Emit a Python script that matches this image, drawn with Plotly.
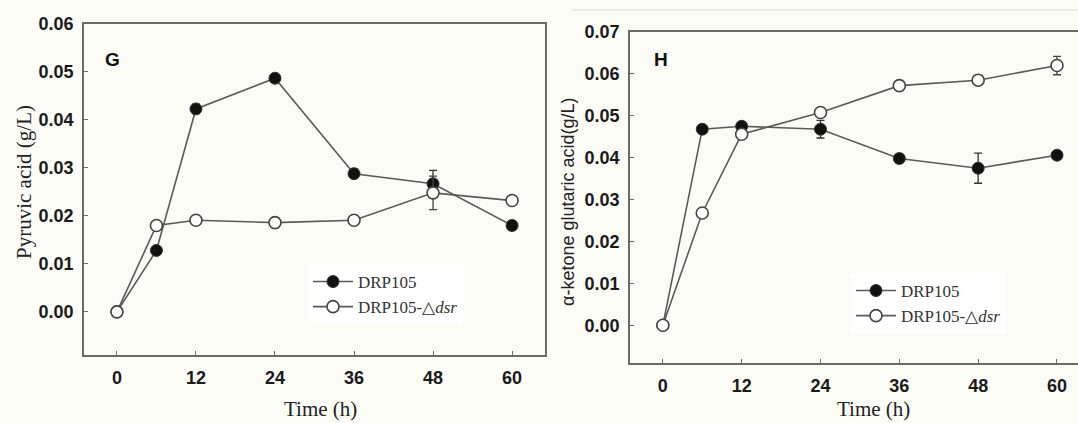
import plotly.graph_objects as go

time_h = [0, 6, 12, 24, 36, 48, 60]

# Panel G: Pyruvic acid (g/L)
pyr_drp105 = [0.0, 0.0128, 0.0423, 0.0487, 0.0288, 0.0267, 0.0180]
pyr_drp105_err = [0.0, 0.0, 0.0010, 0.0005, 0.0010, 0.0028, 0.0009]
pyr_dsr = [0.0, 0.0180, 0.0191, 0.0186, 0.0191, 0.0248, 0.0232]
pyr_dsr_err = [0.0, 0.0, 0.0, 0.0, 0.0, 0.0035, 0.0010]

# Panel H: alpha-ketone glutaric acid (g/L)
akg_drp105 = [0.0, 0.0468, 0.0475, 0.0468, 0.0398, 0.0375, 0.0406]
akg_drp105_err = [0.0, 0.0, 0.0, 0.0021, 0.0010, 0.0036, 0.0005]
akg_dsr = [0.0, 0.0268, 0.0456, 0.0508, 0.0572, 0.0585, 0.0620]
akg_dsr_err = [0.0, 0.0, 0.0, 0.0010, 0.0008, 0.0008, 0.0022]

x_ticks = [0, 12, 24, 36, 48, 60]
names = ["DRP105", "DRP105-△<i>dsr</i>"]

LINE = "#5a5a5a"
MK = "#111111"
BG = "#fcfcf7"

fig = go.Figure()


def add_pair(y1, e1, y2, e2, xa, ya, leg):
    fig.add_trace(go.Scatter(
        x=time_h, y=y1, name=names[0], mode="lines+markers",
        xaxis=xa, yaxis=ya, legend=leg,
        line=dict(color=LINE, width=1.6),
        marker=dict(size=12, color=MK, line=dict(color="#333333", width=1)),
        error_y=dict(type="data", array=e1, color="#333333", thickness=1.3, width=4),
    ))
    fig.add_trace(go.Scatter(
        x=time_h, y=y2, name=names[1], mode="lines+markers",
        xaxis=xa, yaxis=ya, legend=leg,
        line=dict(color=LINE, width=1.6),
        marker=dict(size=12, color="white", line=dict(color="#444444", width=1.6)),
        error_y=dict(type="data", array=e2, color="#444444", thickness=1.3, width=4),
    ))


add_pair(pyr_drp105, pyr_drp105_err, pyr_dsr, pyr_dsr_err, "x", "y", "legend")
add_pair(akg_drp105, akg_drp105_err, akg_dsr, akg_dsr_err, "x2", "y2", "legend2")

tickfont = dict(family="Liberation Sans", size=18, color="#1a1a1a", weight="bold")
axis_common = dict(
    showline=True, linecolor="#6a6a6a", linewidth=1.5,
    ticks="inside", ticklen=4, tickcolor="#6a6a6a", tickwidth=1.2,
    showgrid=False, zeroline=False, tickfont=tickfont, automargin=False,
)

W, H = 1078, 423

fig.update_layout(
    width=W, height=H,
    margin=dict(l=0, r=0, t=0, b=0, pad=0),
    paper_bgcolor=BG, plot_bgcolor=BG,
    showlegend=True,
    xaxis=dict(axis_common, domain=[84 / W, 545 / W], range=[-5, 65],
               tickvals=x_ticks, mirror=True, anchor="y", ticklabelstandoff=6),
    yaxis=dict(axis_common, domain=[1 - 355 / H, 1 - 24 / H], range=[-0.009, 0.06],
               tickvals=[0, 0.01, 0.02, 0.03, 0.04, 0.05, 0.06], tickformat=".2f",
               mirror=True, anchor="x", ticklabelstandoff=5),
    xaxis2=dict(axis_common, domain=[630 / W, 1.0], range=[-5, 63.2],
                tickvals=x_ticks, mirror=True, anchor="y2", ticklabelstandoff=6),
    yaxis2=dict(axis_common, domain=[1 - 363 / H, 1 - 32 / H], range=[-0.009, 0.07],
                tickvals=[0, 0.01, 0.02, 0.03, 0.04, 0.05, 0.06, 0.07], tickformat=".2f",
                mirror=False, anchor="x2", ticklabelstandoff=5),
    legend=dict(x=308 / W, y=1 - 264 / H, xanchor="left", yanchor="top",
                bgcolor="white", borderwidth=0, tracegroupgap=0, itemwidth=40,
                font=dict(family="Liberation Serif", size=17, color="#333333")),
    legend2=dict(x=851 / W, y=1 - 273 / H, xanchor="left", yanchor="top",
                 bgcolor="white", borderwidth=0, tracegroupgap=0, itemwidth=40,
                 font=dict(family="Liberation Serif", size=17, color="#333333")),
)

ann = [
    dict(text="Pyruvic acid (g/L)", x=24 / W, y=1 - 182 / H, textangle=-90,
         font=dict(family="Liberation Serif", size=21, color="#222222")),
    dict(text="Time (h)", x=320 / W, y=1 - 409 / H,
         font=dict(family="Liberation Serif", size=21, color="#222222")),
    dict(text="α-ketone glutaric acid(g/L)", x=568 / W, y=1 - 202 / H, textangle=-90,
         font=dict(family="Liberation Sans", size=18, color="#222222")),
    dict(text="Time (h)", x=873 / W, y=1 - 409 / H,
         font=dict(family="Liberation Serif", size=21, color="#222222")),
    dict(text="G", x=112 / W, y=1 - 60 / H,
         font=dict(family="Liberation Sans", size=19, color="#111111", weight="bold")),
    dict(text="H", x=661 / W, y=1 - 60 / H,
         font=dict(family="Liberation Sans", size=19, color="#111111", weight="bold")),
]
for a in ann:
    a.update(xref="paper", yref="paper", showarrow=False, xanchor="center", yanchor="middle")
fig.update_layout(annotations=ann)

fig.add_shape(type="line", xref="paper", yref="paper", x0=572 / W, x1=1.0,
              y0=1 - 10 / H, y1=1 - 10 / H, line=dict(color="#e6e6e6", width=1.5))

fig.write_html(
    "out.html",
    config={"displayModeBar": False},
    post_script="document.body.style.margin='0';document.body.style.padding='0';"
                "document.body.style.overflow='hidden';",
)
